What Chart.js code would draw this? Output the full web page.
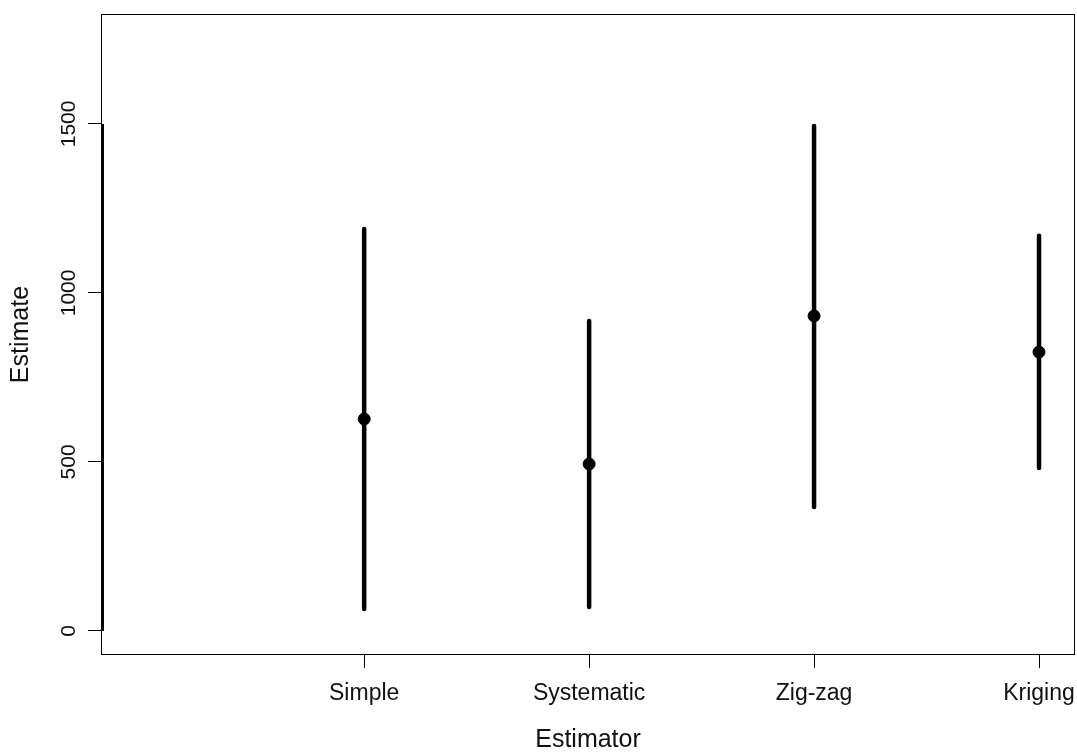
<!DOCTYPE html>
<html>
<head>
<meta charset="utf-8">
<script src="https://cdn.jsdelivr.net/npm/chart.js@4/dist/chart.umd.min.js"></script>
<style>
  html, body { margin: 0; padding: 0; background: #fff; }
  #wrap { width: 1077px; height: 753px; }
</style>
</head>
<body>
<div id="wrap"><canvas id="ci-chart" width="1077" height="753"></canvas></div>
<script>
// Estimator labels, placed at x = 1..4
const estimators = ['Simple', 'Systematic', 'Zig-zag', 'Kriging'];
const positions = [1, 2, 3, 4];
const estimates = [627, 494, 932, 825];
const lowerBounds = [65, 71, 367, 482];
const upperBounds = [1189, 917, 1494, 1169];
const yTicks = [0, 500, 1000, 1500];

const FONT = '"Liberation Sans", Arial, sans-serif';

// vertical interval segments, broken with null between estimators
const segments = [];
positions.forEach((p, i) => {
    segments.push({ x: p, y: lowerBounds[i] });
    segments.push({ x: p, y: upperBounds[i] });
    segments.push({ x: p, y: null });
});

// R-like box, left axis line and rotated y tick labels
const rBox = {
    id: 'rBox',
    afterDraw(chart) {
        const { ctx, chartArea: a, scales } = chart;
        const y = scales.y;
        ctx.save();
        ctx.strokeStyle = '#000';
        ctx.lineWidth = 1;
        ctx.strokeRect(a.left + 0.5, a.top + 0.5, a.right - a.left - 1, a.bottom - a.top - 1);

        // axis line from first to last tick, overlapping the box
        ctx.lineWidth = 3;
        ctx.beginPath();
        ctx.moveTo(a.left + 1.5, y.getPixelForValue(yTicks[0]));
        ctx.lineTo(a.left + 1.5, y.getPixelForValue(yTicks[yTicks.length - 1]));
        ctx.stroke();

        ctx.fillStyle = '#111';
        ctx.font = '21px ' + FONT;
        ctx.textAlign = 'center';
        ctx.textBaseline = 'middle';
        yTicks.forEach(v => {
            ctx.save();
            ctx.translate(69, y.getPixelForValue(v));
            ctx.rotate(-Math.PI / 2);
            ctx.fillText(String(v), 0, 0);
            ctx.restore();
        });
        ctx.restore();
    }
};

new Chart(document.getElementById('ci-chart'), {
    type: 'line',
    data: {
        datasets: [
            {
                label: 'Interval',
                data: segments,
                borderColor: '#000',
                borderWidth: 4.5,
                borderCapStyle: 'round',
                pointRadius: 0,
                spanGaps: false,
                fill: false
            },
            {
                label: 'Estimate',
                type: 'scatter',
                data: positions.map((p, i) => ({ x: p, y: estimates[i] })),
                backgroundColor: '#000',
                borderColor: '#000',
                pointRadius: 6,
                pointHoverRadius: 6
            }
        ]
    },
    plugins: [rBox],
    options: {
        responsive: false,
        animation: false,
        layout: { autoPadding: false, padding: { top: 14, right: 2, left: 0, bottom: 0 } },
        plugins: {
            legend: { display: false },
            tooltip: { enabled: false }
        },
        scales: {
            x: {
                type: 'linear',
                min: -0.17,
                max: 4.16,
                afterBuildTicks: s => { s.ticks = positions.map(v => ({ value: v })); },
                afterFit: s => {
                    s.height = 98;
                    s.paddingLeft = 0;
                    s.paddingRight = 0;
                },
                border: { display: false },
                grid: {
                    drawOnChartArea: false,
                    drawTicks: true,
                    tickLength: 13,
                    color: '#000',
                    lineWidth: 1
                },
                ticks: {
                    color: '#111',
                    font: { family: FONT, size: 23 },
                    padding: 12,
                    maxRotation: 0,
                    callback: v => estimators[positions.indexOf(v)] || ''
                },
                title: {
                    display: true,
                    text: 'Estimator',
                    color: '#111',
                    font: { family: FONT, size: 25, lineHeight: 1 },
                    padding: 0
                }
            },
            y: {
                min: -71,
                max: 1825,
                afterBuildTicks: s => { s.ticks = yTicks.map(v => ({ value: v })); },
                afterFit: s => {
                    s.width = 101;
                    s.paddingTop = 0;
                    s.paddingBottom = 0;
                },
                border: { display: false },
                grid: {
                    drawOnChartArea: false,
                    drawTicks: true,
                    tickLength: 13,
                    color: '#000',
                    lineWidth: 1
                },
                ticks: { display: false },
                title: {
                    display: true,
                    text: 'Estimate',
                    color: '#111',
                    font: { family: FONT, size: 25, lineHeight: 1 },
                    padding: { top: 9, bottom: 0 }
                }
            }
        }
    }
});
</script>
</body>
</html>
